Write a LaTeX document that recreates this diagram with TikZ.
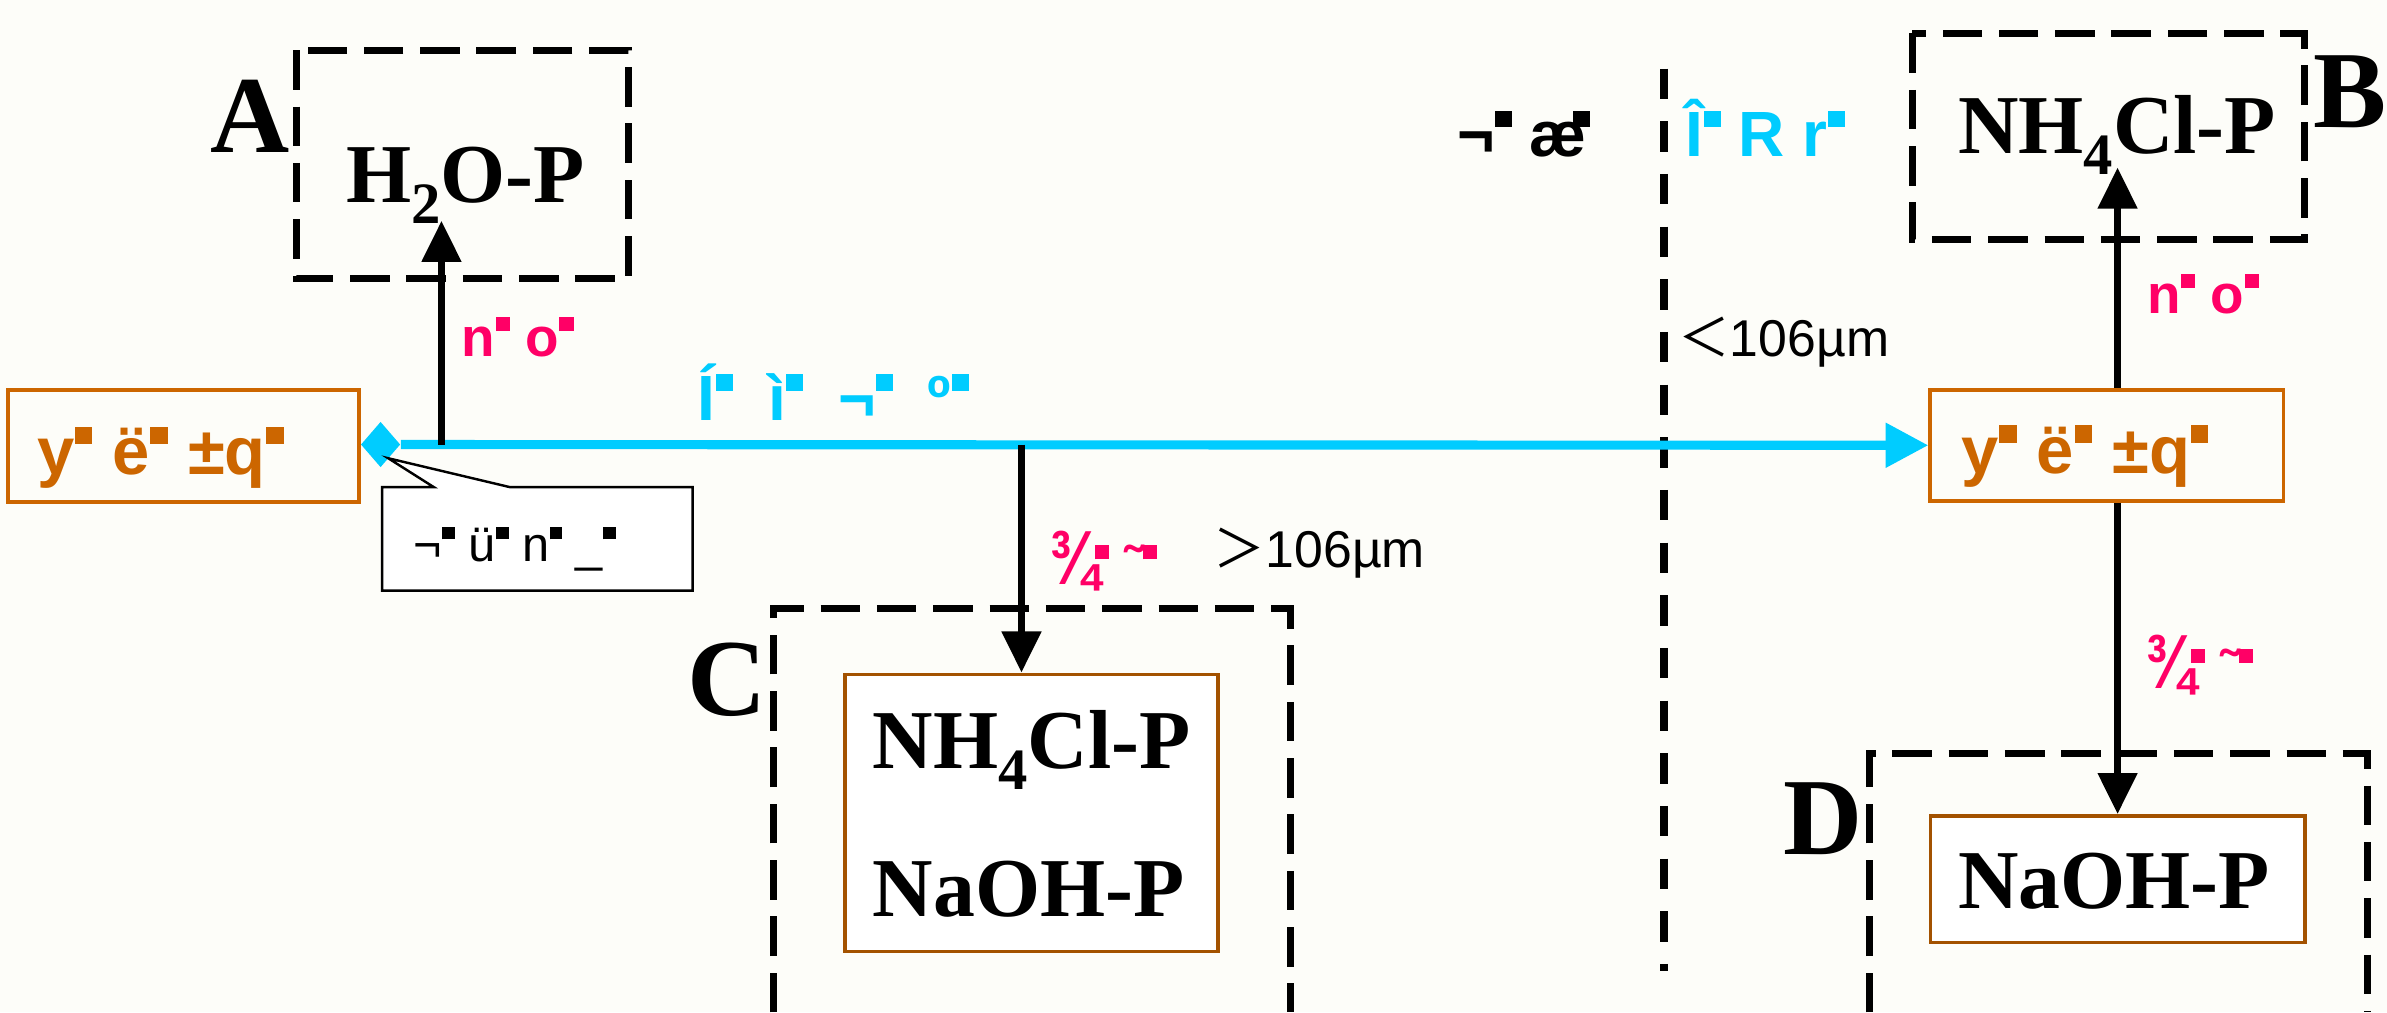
\documentclass[tikz,border=0pt]{standalone}
\usepackage{fontspec}
\setmainfont{Liberation Serif}
\newfontfamily\ar{Liberation Sans}
\newfontfamily\cj{Noto Sans CJK SC}
\usetikzlibrary{arrows.meta,shapes.geometric}
\definecolor{org}{RGB}{204,102,0}
\definecolor{pnk}{RGB}{255,0,102}
\definecolor{sky}{RGB}{0,204,255}
\definecolor{bgc}{RGB}{253,253,249}
\newcommand\sq{\kern0.01em\raisebox{0.46em}{\rule{0.26em}{0.26em}}}
\newcommand\gap{\hspace{0.3em}}
\newcommand\subs[1]{\raisebox{-0.25em}{\scalebox{0.7}{#1}}}
\newcommand\tq{\scalebox{1.1}[1.4]{¾}}
\tikzset{
  lbl/.style={inner sep=0pt, anchor=base west},
  big/.style={lbl, font=\fontsize{36pt}{40pt}\selectfont\bfseries},
  chem/.style={lbl, font=\fontsize{27.5pt}{32pt}\selectfont\bfseries},
  orgtxt/.style={lbl, text=org, font=\ar\fontsize{22pt}{26pt}\selectfont\bfseries},
  pinktxt/.style={lbl, text=pnk, font=\ar\fontsize{18pt}{22pt}\selectfont\bfseries},
  bluetxt/.style={lbl, text=sky, font=\ar\fontsize{21pt}{25pt}\selectfont\bfseries},
  blktxt/.style={lbl, font=\ar\fontsize{21pt}{25pt}\selectfont\bfseries},
  calltxt/.style={lbl, font=\ar\fontsize{16pt}{20pt}\selectfont},
  sizetxt/.style={lbl, font=\ar\fontsize{17pt}{20pt}\selectfont},
  dashbox/.style={line width=2.3pt, dash pattern=on 13pt off 5.5pt},
  vdash/.style={line width=2.8pt, dash pattern=on 10pt off 7.3pt},
  orgbox/.style={draw=org, line width=1.3pt, inner sep=0pt},
  innerbox/.style={draw=org!80!black, line width=1.2pt, inner sep=0pt},
  arr/.style={line width=2.5pt, -{Triangle[length=13.5pt,width=12.5pt]}},
  barr/.style={draw=sky, line width=3pt, -{Triangle[length=14pt,width=14pt]}},
}
\begin{document}
\begin{tikzpicture}[x=0.5pt,y=-0.5pt]
\fill[bgc] (0,0) rectangle (1568,665);
\useasboundingbox (0,0) rectangle (1568,665);

% dashed group boxes
\draw[dashbox] (195,33) rectangle (413,183);
\draw[dashbox] (1256,22) rectangle (1514,157);
\draw[dashbox] (508,665) -- (508,400) -- (848,400) -- (848,665);
\draw[dashbox] (1228,665) -- (1228,495) -- (1555,495) -- (1555,665);
\draw[vdash] (1093,45) -- (1093,638);

% orange boxes
\node[orgbox, minimum width=115.5pt, minimum height=37pt] (lbox) at (120.5,293) {};
\node[orgbox, minimum width=116pt, minimum height=36.5pt] (rbox) at (1384,292.5) {};
\node[orgtxt] (ltxt) at (24,312) {y\sq\gap ë\sq\gap ±q\sq};
\node[orgtxt] (rtxt) at (1288,311) {y\sq\gap ë\sq\gap ±q\sq};

% inner product boxes
\node[innerbox, fill=white, minimum width=122.5pt, minimum height=91pt] (cin) at (677.5,534) {};
\node[innerbox, fill=white, minimum width=123pt, minimum height=41.5pt] (din) at (1391,577.5) {};

% main blue flow
\node[diamond, fill=sky, minimum width=13pt, minimum height=15pt, inner sep=0pt] (dia) at (250,292) {};
\draw[barr] (dia.east) -- (rbox.west);

% callout
\draw[fill=white, line width=0.8pt] (251,320) -- (285,320) -- (255,301) -- (335,320) -- (455,320) -- (455,388) -- (251,388) -- cycle;
\node[calltxt] (ctxt) at (271,369) {¬\sq\ ü\sq\ n\sq\ \_\sq};

% arrows
\coordinate (jA) at (290,292);
\coordinate (tA) at (290,145);
\draw[arr] (jA) -- (tA);
\coordinate (jC) at (671,292);
\draw[arr] (jC) -- (jC |- cin.north);
\coordinate (tB) at (1391,110);
\draw[arr] (tB |- rbox.north) -- (tB);
\draw[arr] (din.north |- rbox.south) -- (din.north);

% letters
\node[big] (la) at (138,100) {A};
\node[big] (lb) at (1519,84) {B};
\node[big] (lc) at (451,470) {C};
\node[big] (ld) at (1171,561) {D};

% chemical labels
\node[chem] (h2o) at (227,133) {H\subs{2}O-P};
\node[chem] (nh4b) at (1286,101) {NH\subs{4}Cl-P};
\node[chem] (nh4c) at (573,505) {NH\subs{4}Cl-P};
\node[chem] (naohc) at (573,602) {NaOH-P};
\node[chem] (naohd) at (1286,597) {NaOH-P};

% coloured labels
\node[pinktxt] (pa) at (303,234) {n\sq\ o\sq};
\node[pinktxt] (pb) at (1410,206) {n\sq\ o\sq};
\node[pinktxt] (pc) at (689,384) {\tq\kern-0.1em\sq\ ˜\sq};
\node[pinktxt] (pd) at (1409,452) {\tq\kern-0.1em\sq\ ˜\sq};
\node[bluetxt] (bm) at (458,276) {Í\sq\hspace{0.55em}ì\sq\hspace{0.55em}¬\sq\hspace{0.55em}º\sq};
\node[bluetxt] (bt) at (1107,103) {Î\sq\ R\ r\sq};
\node[blktxt] (kt) at (957,103) {¬\sq\ æ\kern-0.22em\sq};

% size labels
\node[sizetxt] (gt) at (797,373) {{\cj ＞}106µm};
\node[sizetxt] (lt) at (1102,234) {{\cj ＜}106µm};
\end{tikzpicture}
\end{document}
